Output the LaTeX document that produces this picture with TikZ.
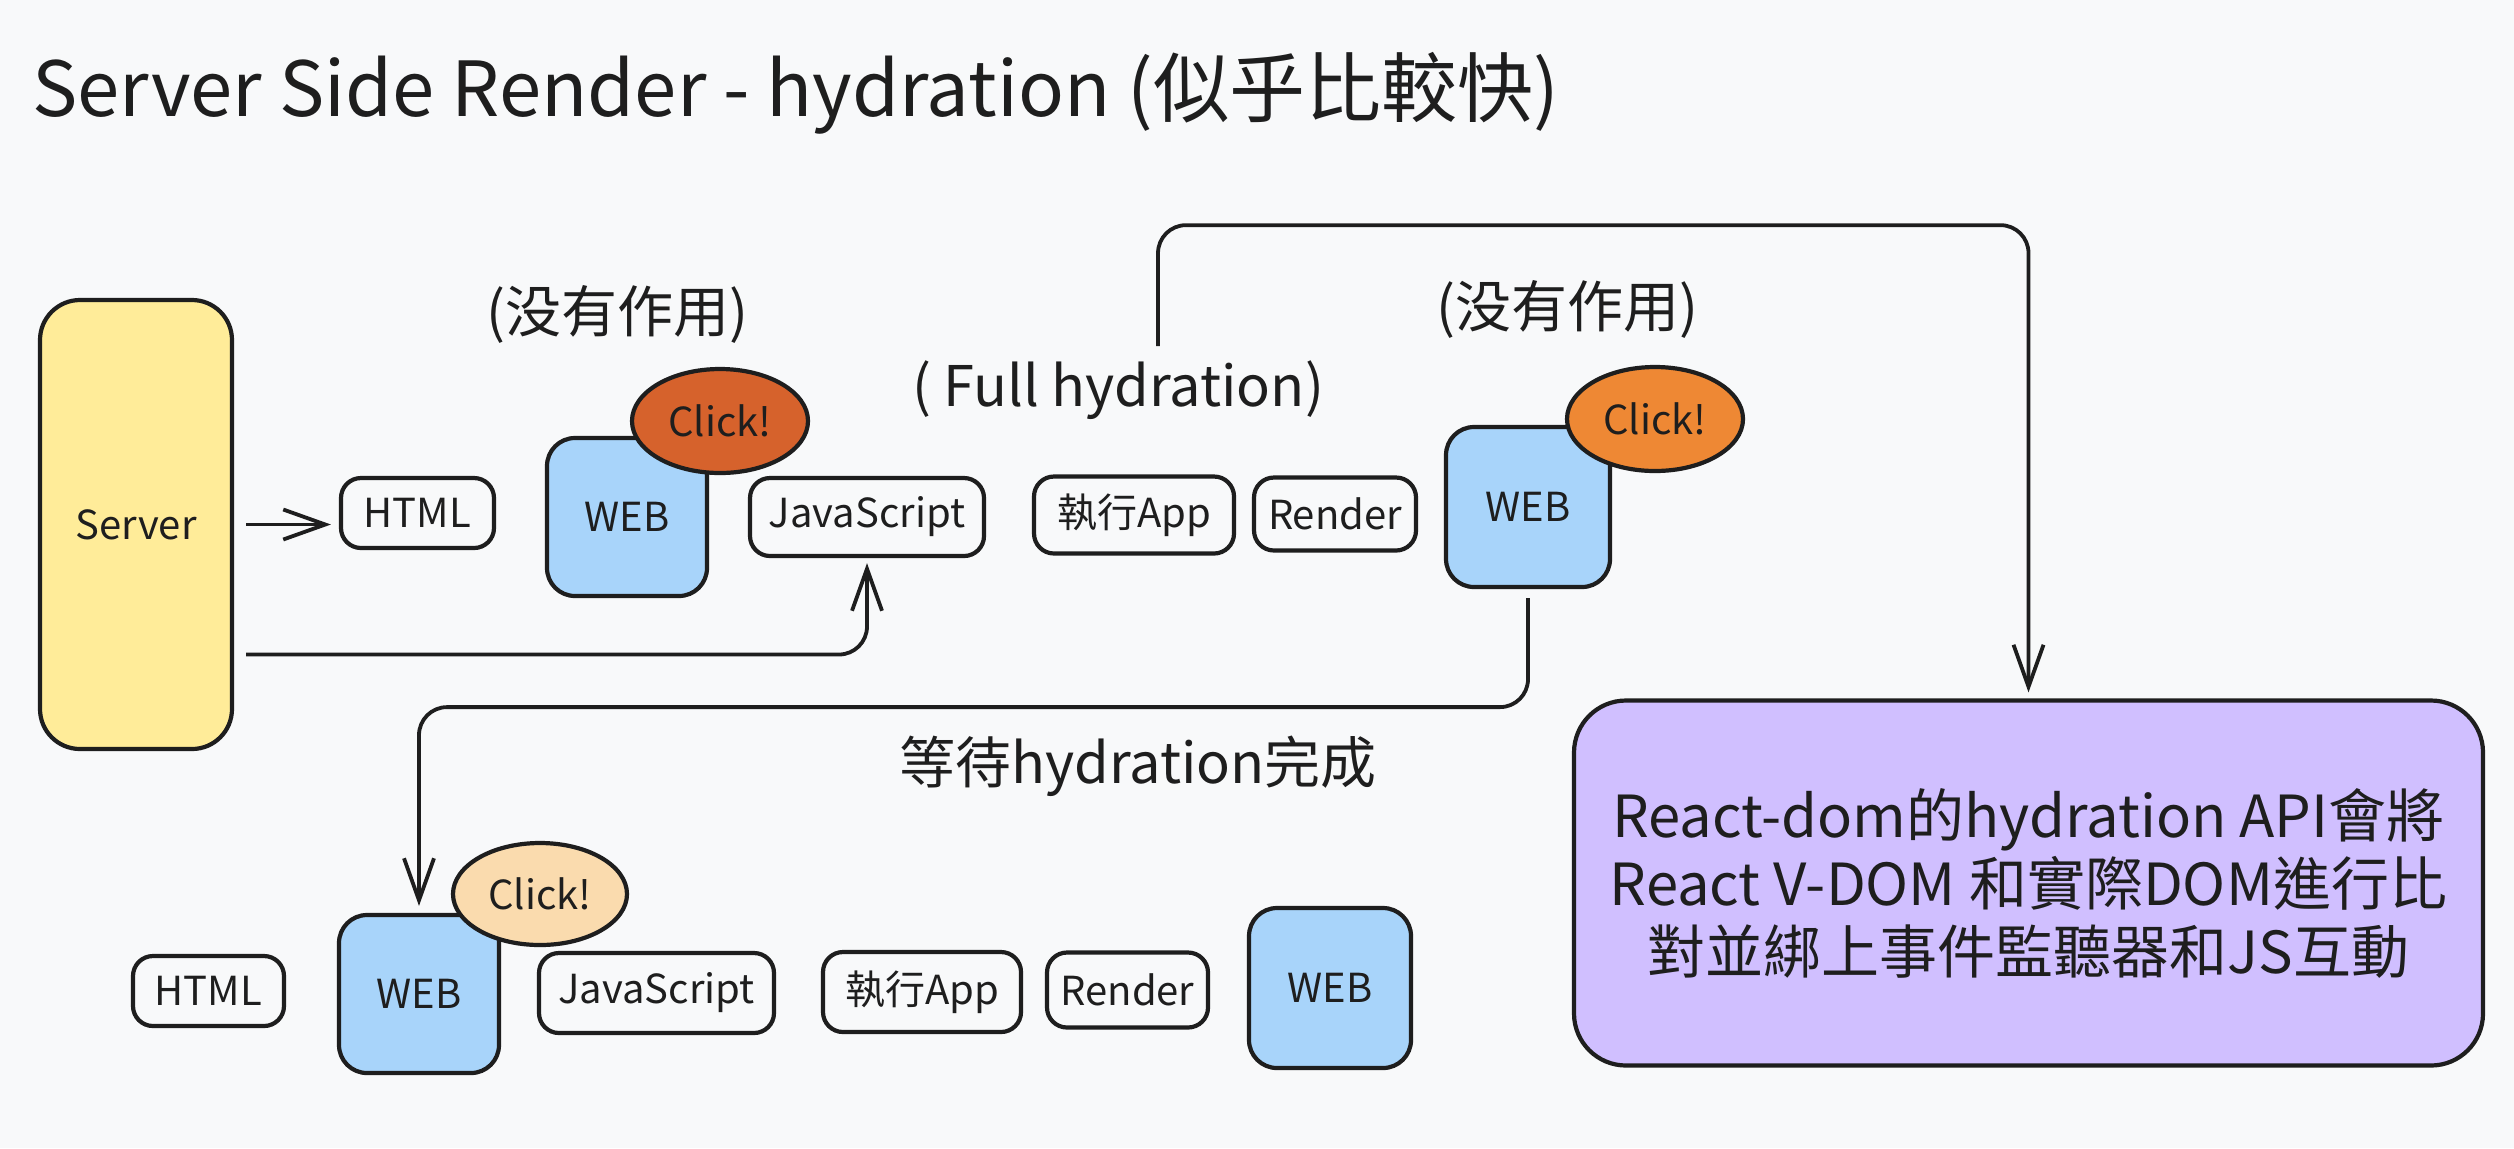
\documentclass[tikz,border=0pt]{standalone}
\usepackage{fontspec}
\setmainfont{Noto Sans CJK TC}
\usepackage{xcolor}
\usepackage{tikz}
\usetikzlibrary{shapes.geometric,arrows.meta,positioning}

\definecolor{bgpaper}{HTML}{F8F9FA}
\definecolor{inkline}{HTML}{1E1E1E}
\definecolor{serverfill}{HTML}{FFEC99}
\definecolor{webfill}{HTML}{A8D4FA}
\definecolor{clickred}{HTML}{D6622C}
\definecolor{clickorange}{HTML}{EE8834}
\definecolor{clickpeach}{HTML}{FADBAE}
\definecolor{notefill}{HTML}{D0BFFF}

\begin{document}
\begin{tikzpicture}[
  x=0.5pt, y=-0.5pt,
  every node/.style={text=inkline, inner sep=0pt},
  box/.style={draw=inkline, line width=2.1pt, rounded corners=10pt, fill=bgpaper,
    font=\fontsize{20}{24}\selectfont},
  webbox/.style={box, fill=webfill, rounded corners=14pt,
    minimum width=80pt, minimum height=79pt},
  clickbub/.style={draw=inkline, line width=2.1pt, ellipse,
    minimum width=88pt, minimum height=52pt, font=\fontsize{20}{24}\selectfont},
  remark/.style={font=\fontsize{28}{32}\selectfont},
  flow/.style={draw=inkline, line width=1.9pt, rounded corners=14pt,
    -{Straight Barb[length=21pt,width=15pt]}}
]

% Paper
\fill[bgpaper] (0,0) rectangle (2514,1148);
\useasboundingbox (0,0) rectangle (2514,1148);

% Title
\node[anchor=west, font=\fontsize{38}{42}\selectfont] (title) at (32,93)
  {Server Side Render - hydration (似乎比較快)};

% Server
\node[box, fill=serverfill, rounded corners=20pt, minimum width=96pt,
  minimum height=224.5pt] (server) at (136,524.5) {Server};

% Upper row: before hydration
\node[box, minimum width=76.5pt, minimum height=35pt] (html1) at (417.5,513) {HTML};
\node[webbox] (web1) at (627,517) {WEB};
\node[clickbub, fill=clickred] (click1) at (720,421) {Click!};
\node[box, minimum width=117pt, minimum height=39pt] (js1) at (867,517) {JavaScript};
\node[box, minimum width=100pt, minimum height=38.5pt] (app1) at (1134,515) {執行App};
\node[box, minimum width=81pt, minimum height=36.5pt] (render1) at (1335,514) {Render};
\node[webbox, minimum width=82pt, minimum height=80pt] (web2) at (1528,507) {WEB};
\node[clickbub, fill=clickorange] (click2) at (1655,419) {Click!};

% Remarks
\node[remark] (nouse1) at (617,314) {(没有作用)};
\node[remark] (nouse2) at (1567,309) {(没有作用)};
\node[remark] (full) at (1118,390) {( Full hydration)};
\node[remark] (wait) at (1138,766) {等待hydration完成};

% Lower row: after hydration
\node[box, minimum width=75.5pt, minimum height=35pt] (html2) at (208.5,991) {HTML};
\node[webbox] (web3) at (419,994) {WEB};
\node[clickbub, fill=clickpeach, minimum width=87pt, minimum height=51pt] (click3)
  at (540,894) {Click!};
\node[box, minimum width=117.5pt, minimum height=40pt] (js2) at (656.5,993) {JavaScript};
\node[box, minimum width=99pt, minimum height=40pt] (app2) at (922,992) {執行App};
\node[box, minimum width=80.5pt, minimum height=37.5pt] (render2) at (1127.5,990) {Render};
\node[webbox, minimum width=81pt, minimum height=80pt] (web4) at (1330,988) {WEB};

% Note
\node[box, fill=notefill, rounded corners=26pt, minimum width=454.5pt,
  minimum height=182.5pt, align=center, font=\fontsize{29}{34}\selectfont]
  (react) at (2028.5,883)
  {React-dom的hydration API會將\\React V-DOM 和實際DOM進行比\\對並綁上事件監聽器和JS互動};

% Connectors
\draw[flow, shorten <=6pt, shorten >=4pt] (server.east) -- (server.east -| html1.west);
\draw[flow, shorten <=6pt, shorten >=2.5pt] ([yshift=-65pt]server.east) -| (js1.south);
\draw[flow, shorten >=3pt] ([xshift=20pt,yshift=7pt]full.north) -- ++(0,-121) -| (react.north);
\draw[flow, shorten <=4.5pt, shorten >=3.5pt] (web2.south) -- ++(0,118) -| (web3.north);

\end{tikzpicture}
\end{document}
